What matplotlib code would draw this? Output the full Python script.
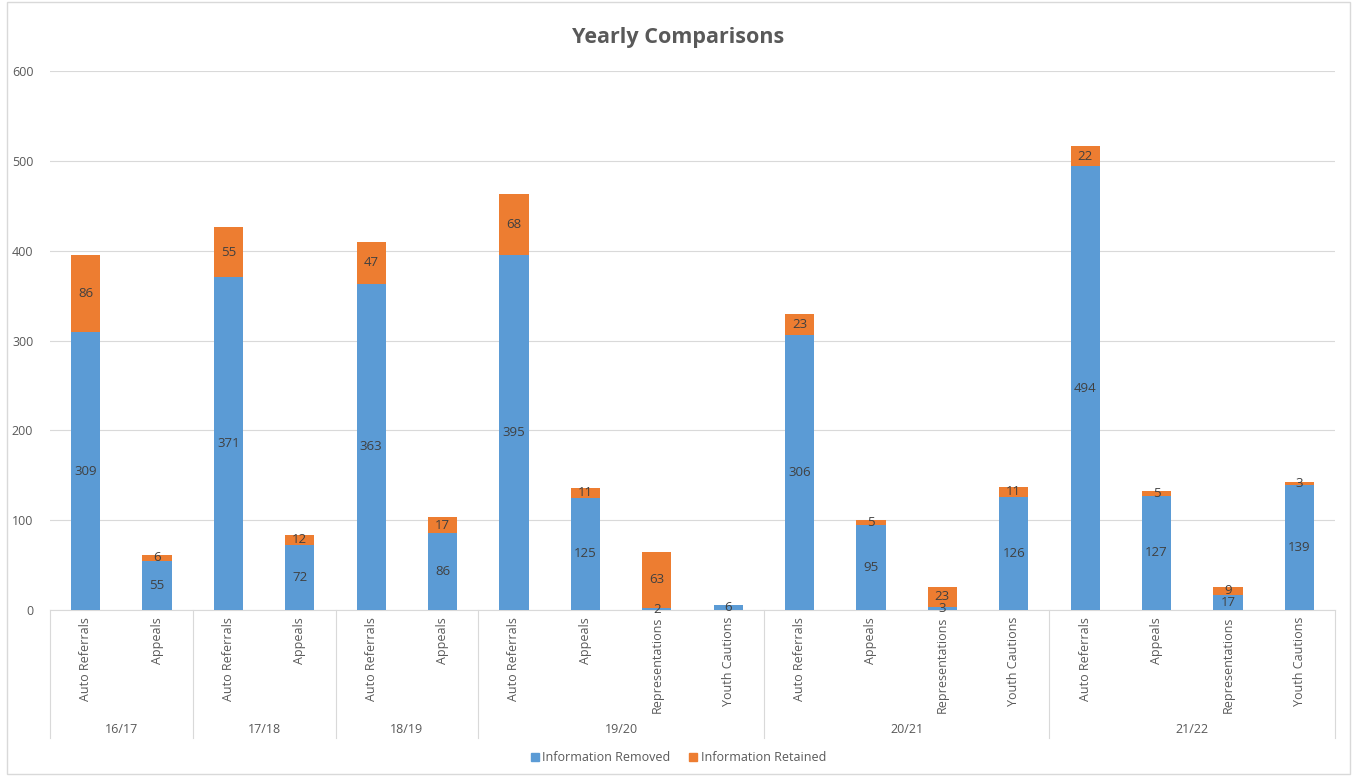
import matplotlib.pyplot as plt
from matplotlib.patches import Patch, Rectangle
from matplotlib.transforms import blended_transform_factory
import numpy as np

plt.rcParams['font.family'] = ['Open Sans', 'DejaVu Sans']

# data
years = ['16/17', '17/18', '18/19', '19/20', '20/21', '21/22']
group_sizes = [2, 2, 2, 4, 4, 4]
categories = ['Auto Referrals', 'Appeals',
              'Auto Referrals', 'Appeals',
              'Auto Referrals', 'Appeals',
              'Auto Referrals', 'Appeals', 'Representations', 'Youth Cautions',
              'Auto Referrals', 'Appeals', 'Representations', 'Youth Cautions',
              'Auto Referrals', 'Appeals', 'Representations', 'Youth Cautions']
removed = [309, 55, 371, 72, 363, 86, 395, 125, 2, 6, 306, 95, 3, 126, 494, 127, 17, 139]
retained = [86, 6, 55, 12, 47, 17, 68, 11, 63, 0, 23, 5, 23, 11, 22, 5, 9, 3]

blue = '#5B9BD5'
orange = '#ED7D31'
grey_txt = '#595959'

fig = plt.figure(figsize=(13.57, 7.76), dpi=100)
ax = fig.add_axes([0.0368, 0.2139, 0.9470, 0.6946])

x = np.arange(len(categories))
ax.bar(x, removed, width=0.41, color=blue, zorder=3)
ax.bar(x, retained, width=0.41, bottom=removed, color=orange, zorder=3)

# data labels centred in each segment
for i in range(len(x)):
    ax.text(x[i], removed[i] / 2, str(removed[i]), ha='center', va='center',
            fontsize=9.5, color='#404040', zorder=4)
    if retained[i] > 0:
        ax.text(x[i], removed[i] + retained[i] / 2, str(retained[i]), ha='center',
                va='center', fontsize=9.5, color='#404040', zorder=4)

ax.set_xlim(-0.5, len(x) - 0.5)
ax.set_ylim(0, 600)
ax.set_yticks(range(0, 601, 100))
ax.yaxis.grid(True, color='#D9D9D9', linewidth=0.8)
ax.set_axisbelow(True)
for s in ['top', 'right', 'left']:
    ax.spines[s].set_visible(False)
ax.spines['bottom'].set_color('#D9D9D9')
ax.tick_params(axis='y', length=0, labelsize=9, labelcolor=grey_txt, pad=12)
ax.set_xticks([])

# multi-level category axis
trans = blended_transform_factory(ax.transData, ax.transAxes)
for i, c in enumerate(categories):
    ax.text(x[i], -0.013, c, rotation=90, ha='center', va='top', fontsize=9,
            color=grey_txt, transform=trans)

bounds = np.concatenate([[0], np.cumsum(group_sizes)]) - 0.5
for b in bounds:
    ax.plot([b, b], [0, -0.2375], color='#D9D9D9', linewidth=0.8,
            transform=trans, clip_on=False)
for j, yr in enumerate(years):
    ax.text((bounds[j] + bounds[j + 1]) / 2, -0.2208, yr, ha='center', va='center',
            fontsize=9, color=grey_txt, transform=trans)

fig.text(0.5, 1 - 37 / 776, 'Yearly Comparisons', ha='center', va='center',
         fontsize=15.5, fontweight='bold', color=grey_txt)

fig.legend(handles=[Patch(color=blue, label='Information Removed'),
                    Patch(color=orange, label='Information Retained')],
           loc='center', bbox_to_anchor=(0.5, 0.0235), ncol=2, frameon=False,
           fontsize=9, handlelength=0.6, handleheight=0.6, handletextpad=0.3,
           columnspacing=1.5, labelcolor=grey_txt)

fig.patches.append(Rectangle((0.005, 0.003), 0.99, 0.994, transform=fig.transFigure,
                             fill=False, edgecolor='#D9D9D9', linewidth=1))

fig.savefig('out.png', dpi=100)
